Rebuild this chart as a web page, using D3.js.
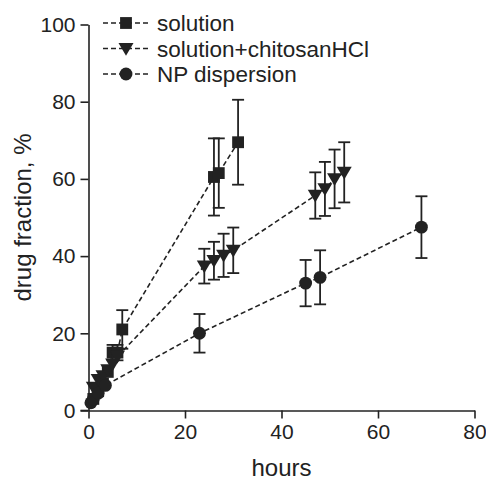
<!DOCTYPE html>
<html><head><meta charset="utf-8">
<script src="https://cdn.jsdelivr.net/npm/d3@7"></script>
<style>body{margin:0;background:#fff}svg{display:block}text{font-family:"Liberation Sans",Arial,sans-serif;fill:#222}</style>
</head><body><svg id="c" width="486" height="481"></svg>
<script>
const seriesNames = ["solution", "solution+chitosanHCl", "NP dispersion"];
const solutionHours = [1, 2, 3, 4, 5, 6, 7, 26, 27, 31];
const solutionValues = [3, 5, 7, 10, 15, 15, 21, 60.5, 61.5, 69.5];
const solutionErrors = [1, 1, 1, 1.5, 2, 2, 5, 10, 9, 11];
const chitosanHours = [1, 2, 3, 4, 5, 6, 24, 26, 28, 30, 47, 49, 51, 53];
const chitosanValues = [6, 8, 9, 10.5, 12, 14, 37.4, 38.8, 40.2, 41.5, 55.7, 57.4, 60, 61.7];
const chitosanErrors = [1, 1, 1, 1, 1.5, 1.5, 4.5, 4.9, 5.6, 5.9, 6, 7, 7.6, 7.8];
const npHours = [0.5, 1, 2, 3.5, 23, 45, 48, 69];
const npValues = [2, 3, 4.5, 6.5, 20, 33, 34.5, 47.5];
const npErrors = [1, 1, 1, 1, 5, 6, 7, 8];
const xTicks = [0, 20, 40, 60, 80];
const yTicks = [0, 20, 40, 60, 80, 100];

const series = [
  {name: seriesNames[0], t: solutionHours, v: solutionValues, e: solutionErrors, sym: d3.symbolSquare},
  {name: seriesNames[1], t: chitosanHours, v: chitosanValues, e: chitosanErrors, sym: "tri"},
  {name: seriesNames[2], t: npHours, v: npValues, e: npErrors, sym: d3.symbolCircle}
];

const svg = d3.select("#c");
const x = d3.scaleLinear().domain([0, 80]).range([88.5, 474.5]);
const y = d3.scaleLinear().domain([0, 100]).range([410.5, 24.5]);
const col = "#222";

const xa = svg.append("g").attr("transform", "translate(0,410.5)")
  .call(d3.axisBottom(x).tickValues(xTicks).tickSize(8).tickSizeOuter(0).tickPadding(6));
const ya = svg.append("g").attr("transform", "translate(88.5,0)")
  .call(d3.axisLeft(y).tickValues(yTicks).tickSize(8).tickSizeOuter(0).tickPadding(5));
[xa, ya].forEach(a => {
  a.selectAll("path,line").attr("stroke", col).attr("stroke-width", 1.6);
  a.selectAll("text").attr("font-size", 21).attr("fill", col).style("font-family", '"Liberation Sans",Arial,sans-serif');
});
svg.append("line").attr("x1", 80.5).attr("x2", 88.5).attr("y1", 410.5).attr("y2", 410.5).attr("stroke", col).attr("stroke-width", 1.6);

svg.append("text").attr("x", x(40)).attr("y", 476).attr("text-anchor", "middle").attr("font-size", 24).text("hours");
svg.append("text").attr("transform", `translate(31,${y(50)}) rotate(-90)`).attr("text-anchor", "middle").attr("font-size", 24).text("drug fraction, %");

function drawMarker(g, sym, cx, cy) {
  if (sym === "tri") {
    const s = 7.5;
    g.append("path").attr("d", `M${cx - s},${cy - s * 0.75}L${cx + s},${cy - s * 0.75}L${cx},${cy + s * 0.95}Z`).attr("fill", col);
  } else {
    const size = sym === d3.symbolSquare ? 140 : 130;
    g.append("path").attr("d", d3.symbol().type(sym).size(size)()).attr("transform", `translate(${cx},${cy})`).attr("fill", col);
  }
}

series.forEach(s => {
  const pts = s.t.map((t, i) => ({t, v: s.v[i], e: s.e[i]}));
  const g = svg.append("g");
  g.append("path").datum(pts)
    .attr("d", d3.line().x(d => x(d.t)).y(d => y(d.v)))
    .attr("fill", "none").attr("stroke", col).attr("stroke-width", 1.6).attr("stroke-dasharray", "5,3");
  pts.forEach(d => {
    if (d.e > 1.5) {
      g.append("line").attr("x1", x(d.t)).attr("x2", x(d.t)).attr("y1", y(d.v - d.e)).attr("y2", y(d.v + d.e)).attr("stroke", col).attr("stroke-width", 1.8);
      [d.v - d.e, d.v + d.e].forEach(vv => g.append("line").attr("x1", x(d.t) - 6).attr("x2", x(d.t) + 6).attr("y1", y(vv)).attr("y2", y(vv)).attr("stroke", col).attr("stroke-width", 1.8));
    }
    drawMarker(g, s.sym, x(d.t), y(d.v));
  });
});

const lg = svg.append("g");
series.forEach((s, i) => {
  const ly = 23 + i * 25.5;
  lg.append("line").attr("x1", 103).attr("x2", 150).attr("y1", ly).attr("y2", ly).attr("stroke", col).attr("stroke-width", 1.6).attr("stroke-dasharray", "5,3");
  drawMarker(lg, s.sym, 126, ly);
  lg.append("text").attr("x", 157).attr("y", ly + 8).attr("font-size", 22.5).text(s.name);
});
</script></body></html>
